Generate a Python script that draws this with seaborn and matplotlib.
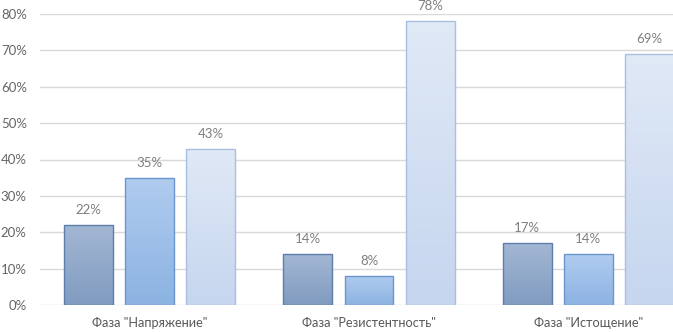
import matplotlib
matplotlib.use("Agg")
import matplotlib.pyplot as plt
import matplotlib.colors as mcolors
import numpy as np
import pandas as pd
import seaborn as sns
from matplotlib.ticker import PercentFormatter

# Data
phases = ['Фаза "Напряжение"', 'Фаза "Резистентность"', 'Фаза "Истощение"']
series = ["Ряд 1", "Ряд 2", "Ряд 3"]
series_1 = [0.22, 0.14, 0.17]
series_2 = [0.35, 0.08, 0.14]
series_3 = [0.43, 0.78, 0.69]

# Gradient colours per series (top, bottom) and edge colour
grad_top = ["#A3B7D3", "#B0CCEF", "#E0E9F6"]
grad_bottom = ["#819CC1", "#8CB3E2", "#C6D6EF"]
edges = ["#5D7DAB", "#6B95CD", "#A9BFE0"]

df = pd.DataFrame({
    "phase": np.repeat(phases, 3),
    "series": series * 3,
    "value": [v for trio in zip(series_1, series_2, series_3) for v in trio],
})

sns.set_theme(style="white")
plt.rcParams["font.family"] = ["Lato", "DejaVu Sans"]

fig = plt.figure(figsize=(6.73, 3.32), dpi=100)
ax = fig.add_axes([40 / 673, 1 - 305 / 332, 1 - 40 / 673, (305 - 14) / 332])

sns.barplot(
    data=df, x="phase", y="value", hue="series", order=phases, hue_order=series,
    palette=grad_bottom, width=0.836, gap=0.2, legend=False, ax=ax,
    edgecolor="none", linewidth=0,
)

xlim = (-0.5, (672 - 40) / 219 - 0.5)
ylim = (0, 0.8)

# gradient fill clipped to each bar
for i, cont in enumerate(ax.containers):
    cmap = mcolors.LinearSegmentedColormap.from_list(
        f"g{i}", [grad_bottom[i], grad_top[i]])
    for patch in cont:
        patch.set_edgecolor(edges[i])
        patch.set_linewidth(1.0)
        x0, y0 = patch.get_x(), patch.get_y()
        w, h = patch.get_width(), patch.get_height()
        grad = np.linspace(1, 0, 64).reshape(-1, 1)
        im = ax.imshow(grad, cmap=cmap, aspect="auto",
                       extent=(x0, x0 + w, y0, y0 + h), zorder=patch.get_zorder() - 0.1,
                       interpolation="bicubic")
        im.set_clip_path(patch)
        patch.set_facecolor("none")
        patch.set_zorder(patch.get_zorder() + 0.2)
    ax.bar_label(cont, labels=[f"{p.get_height():.0%}" for p in cont],
                 padding=6.5, fontsize=9.5, color="#7F7F7F")

ax.set_xlim(*xlim)
ax.set_ylim(*ylim)
ax.set_yticks(np.arange(0, 0.81, 0.1))
ax.yaxis.set_major_formatter(PercentFormatter(1.0, decimals=0))
ax.set_xlabel("")
ax.set_ylabel("")

ax.grid(axis="y", color="#D9D9D9", linewidth=1.0)
ax.set_axisbelow(True)
for s in ax.spines.values():
    s.set_visible(False)
ax.tick_params(axis="y", length=0, pad=9.5, labelsize=9.5, labelcolor="#666666")
ax.tick_params(axis="x", length=0, pad=8.5, labelsize=9.2, labelcolor="#595959")

fig.savefig("out.png", dpi=100)
